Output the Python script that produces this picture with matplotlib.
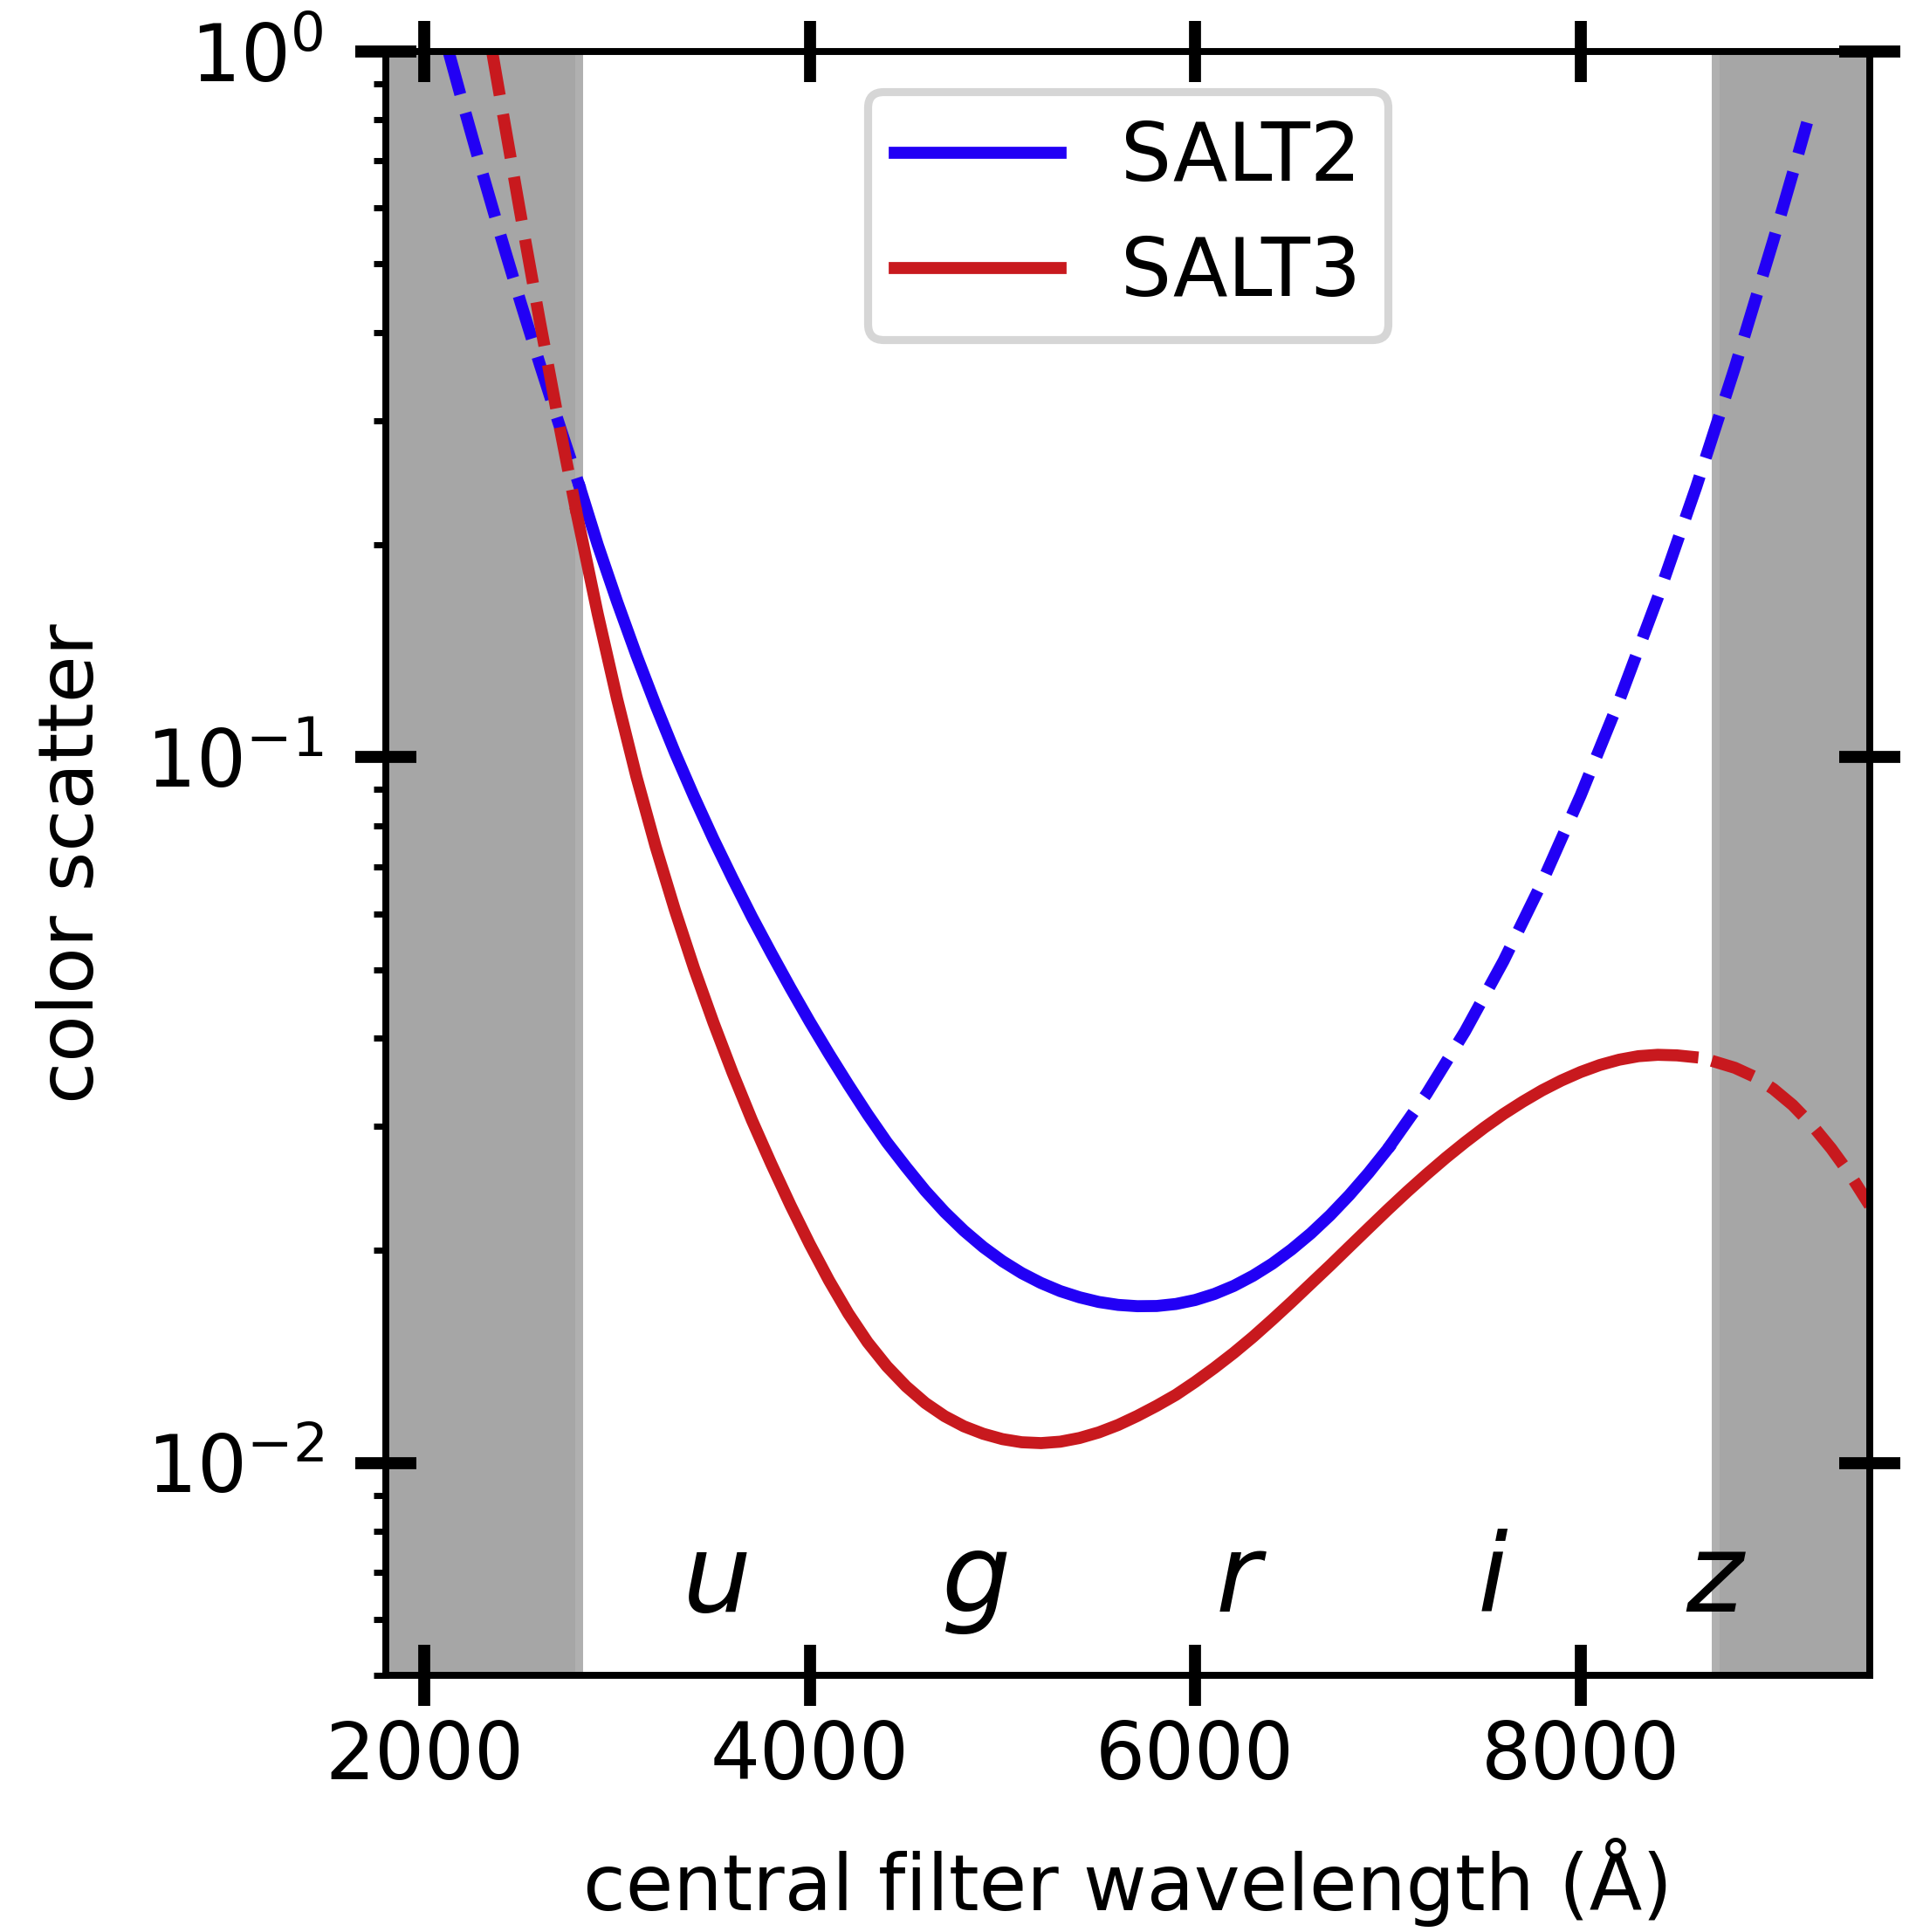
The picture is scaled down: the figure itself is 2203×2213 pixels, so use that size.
import matplotlib
matplotlib.use("Agg")
import matplotlib.pyplot as plt

# --- data ---
# SALT2 colour scatter: dashed outside the filter range, solid inside
salt2_left_x = [2126, 2200, 2300, 2400, 2500, 2600, 2700, 2810]
salt2_left_y = [1.0, 0.8440, 0.6752, 0.5436, 0.4409, 0.3600, 0.2960, 0.2399]
salt2_mid_x = [2810, 2900, 3000, 3100, 3200, 3300, 3400, 3500, 3600, 3700, 3800,
               3900, 4000, 4100, 4200, 4300, 4400, 4500, 4600, 4700, 4800, 4900,
               5000, 5100, 5200, 5300, 5400, 5500, 5600, 5700, 5800, 5900, 6000,
               6100, 6200, 6300, 6400, 6500, 6600, 6700, 6800, 6900, 7000]
salt2_mid_y = [0.2399, 0.2000, 0.1663, 0.1397, 0.1186, 0.1016, 0.0879, 0.0766,
               0.0673, 0.0594, 0.0528, 0.0471, 0.0422, 0.0380, 0.03436, 0.03119,
               0.02848, 0.02626, 0.02430, 0.02268, 0.02134, 0.02023, 0.01932,
               0.01858, 0.01799, 0.01752, 0.01717, 0.01691, 0.01675, 0.01668,
               0.01669, 0.01680, 0.01702, 0.01736, 0.01782, 0.01842, 0.01916,
               0.02007, 0.02115, 0.02244, 0.02397, 0.02577, 0.02788]
salt2_right_x = [7000, 7200, 7400, 7600, 7800, 8000, 8200, 8400, 8600, 8800,
                 9000, 9100, 9175]
salt2_right_y = [0.02788, 0.03333, 0.04088, 0.05145, 0.06651, 0.0883, 0.1203,
                 0.1683, 0.2417, 0.3566, 0.5402, 0.6711, 0.7932]

# SALT3 colour scatter
salt3_left_x = [2352, 2400, 2500, 2600, 2700, 2790]
salt3_left_y = [1.0, 0.8404, 0.5867, 0.4140, 0.2961, 0.2221]
salt3_mid_x = [2790, 2900, 3000, 3100, 3200, 3300, 3400, 3500, 3600, 3700, 3800,
               3900, 4000, 4100, 4200, 4300, 4400, 4500, 4600, 4700, 4800, 4900,
               5000, 5100, 5200, 5300, 5400, 5500, 5600, 5700, 5800, 5900, 6000,
               6100, 6200, 6300, 6400, 6500, 6600, 6700, 6800, 6900, 7000, 7100,
               7200, 7300, 7400, 7500, 7600, 7700, 7800, 7900, 8000, 8100, 8200,
               8300, 8400, 8500, 8580]
salt3_mid_y = [0.2221, 0.1596, 0.1211, 0.0940, 0.0748, 0.0608, 0.0502, 0.0421,
               0.0357, 0.0306, 0.02655, 0.02319, 0.02042, 0.01814, 0.01629,
               0.01483, 0.01371, 0.01284, 0.01216, 0.01165, 0.01127, 0.01100,
               0.01081, 0.01070, 0.01067, 0.01072, 0.01085, 0.01105, 0.01132,
               0.01166, 0.01205, 0.01249, 0.01303, 0.01364, 0.01432, 0.01509,
               0.01596, 0.01691, 0.01795, 0.01905, 0.02025, 0.02152, 0.02286,
               0.02424, 0.02564, 0.02706, 0.02847, 0.02987, 0.03123, 0.03251,
               0.03373, 0.03483, 0.03581, 0.03664, 0.03728, 0.03771, 0.03788,
               0.03781, 0.03762]
salt3_right_x = [8680, 8800, 8900, 9000, 9100, 9200, 9300, 9400, 9500]
salt3_right_y = [0.03715, 0.03631, 0.03528, 0.03388, 0.03215, 0.03013, 0.02791,
                 0.02559, 0.02317]

# filter labels
band_names = ["u", "g", "r", "i", "z"]
band_x = [3520, 4866, 6221, 7544, 8695]
band_y = 0.00616

# excluded wavelength ranges
blue_cut = 2800
red_cut = 8700

c_salt2 = "#2200f5"
c_salt3 = "#c8191e"
lw = 3.3

fig = plt.figure(figsize=(2203 / 300, 2213 / 300), dpi=300)
ax = fig.add_axes([0.2006, 0.1328, 0.7717, 0.8405])

# shaded regions (darker core plus a lighter edge strip)
ax.axvspan(1800, blue_cut + 23, color="#b0b0b0", lw=0, zorder=0)
ax.axvspan(1800, blue_cut - 18, color="#a6a6a6", lw=0, zorder=0)
ax.axvspan(red_cut - 18, 9500, color="#b0b0b0", lw=0, zorder=0)
ax.axvspan(red_cut + 23, 9500, color="#a6a6a6", lw=0, zorder=0)

ax.plot(salt2_mid_x, salt2_mid_y, color=c_salt2, lw=lw, label="SALT2")
ax.plot(salt2_left_x, salt2_left_y, color=c_salt2, lw=lw, ls="--")
ax.plot(salt2_right_x, salt2_right_y, color=c_salt2, lw=lw, ls="--")
ax.plot(salt3_mid_x, salt3_mid_y, color=c_salt3, lw=lw, label="SALT3")
ax.plot(salt3_left_x, salt3_left_y, color=c_salt3, lw=lw, ls="--")
ax.plot(salt3_right_x, salt3_right_y, color=c_salt3, lw=lw, ls="--")

for name, bx in zip(band_names, band_x):
    ax.text(bx, band_y, name, fontsize=30, style="italic", ha="center", va="baseline")

ax.set_yscale("log")
ax.set_xlim(1800, 9500)
ax.set_ylim(0.005, 1)
ax.set_xticks([2000, 4000, 6000, 8000])

for side in ax.spines.values():
    side.set_linewidth(1.9)

ax.tick_params(which="major", direction="inout", length=17, width=3.3,
               top=True, right=True, labelsize=21.5)
ax.tick_params(axis="y", which="major", pad=8.6)
ax.tick_params(which="minor", direction="out", length=3.4, width=1.7,
               right=False, top=False)

ax.set_xlabel("central filter wavelength (Å)", fontsize=21.3, labelpad=11.5)
ax.set_ylabel("color scatter", fontsize=21, labelpad=10)

leg = ax.legend(loc="upper center", fontsize=22, handlelength=2.08,
                handletextpad=0.75, labelspacing=0.46, borderpad=0.34,
                fancybox=True, framealpha=1)
leg.get_frame().set_edgecolor("#d6d6d6")
leg.get_frame().set_linewidth(2.2)

fig.savefig("out.png", dpi=300)
